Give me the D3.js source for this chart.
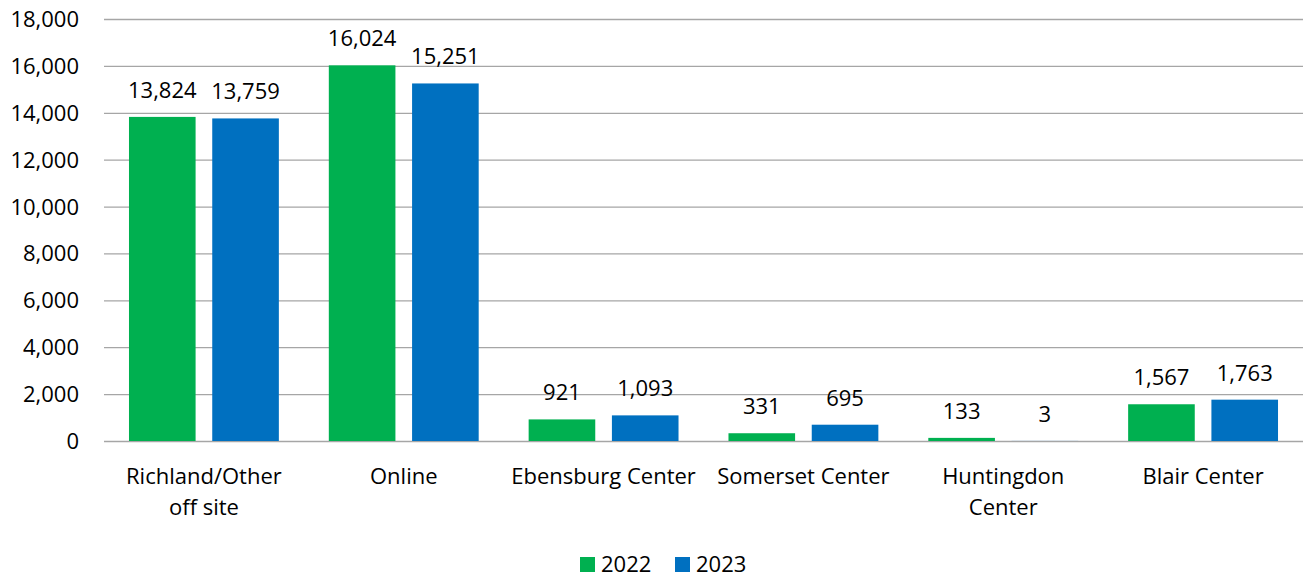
<!DOCTYPE html>
<html>
<head>
<meta charset="utf-8">
<script src="https://cdn.jsdelivr.net/npm/d3@7"></script>
<style>
  html, body { margin: 0; padding: 0; background: #fff; }
  svg { display: block; font-family: "Open Sans", "Noto Sans", sans-serif; }
</style>
</head>
<body>
<svg id="chart" width="1312" height="580"></svg>
<script>
// Enrollment by location, two years
const categories = ["Richland/Other off site", "Online", "Ebensburg Center", "Somerset Center", "Huntingdon Center", "Blair Center"];
const categoryLines = [["Richland/Other", "off site"], ["Online"], ["Ebensburg Center"], ["Somerset Center"], ["Huntingdon", "Center"], ["Blair Center"]];
const seriesNames = ["2022", "2023"];
const values2022 = [13824, 16024, 921, 331, 133, 1567];
const values2023 = [13759, 15251, 1093, 695, 3, 1763];
const yTicks = [0, 2000, 4000, 6000, 8000, 10000, 12000, 14000, 16000, 18000];
const colors = ["#00B050", "#0070C0"];

const seriesValues = [values2022, values2023];
const svg = d3.select("#chart");
const margin = { left: 104, right: 9, top: 19, bottom: 139 };
const W = 1312, H = 580;
const plotW = W - margin.left - margin.right;
const plotH = H - margin.top - margin.bottom;

const x = d3.scaleBand().domain(categories).range([0, plotW]).paddingInner(0).paddingOuter(0);
const x1 = d3.scaleBand().domain(seriesNames).range([0, x.bandwidth()]).paddingInner(0.2).paddingOuter(0.3);
const y = d3.scaleLinear().domain([0, 18000]).range([plotH, 0]);

const g = svg.append("g").attr("transform", `translate(${margin.left},${margin.top})`);

// Horizontal gridlines with tick labels
const yAxis = d3.axisLeft(y).tickValues(yTicks).tickSize(-plotW).tickPadding(25).tickFormat(d3.format(","));
const ya = g.append("g").call(yAxis);
ya.select(".domain").remove();
ya.selectAll(".tick line").attr("stroke", "#a6a6a6").attr("stroke-width", 1.3);
ya.selectAll(".tick text").attr("font-size", 22).attr("fill", "#000")
  .attr("font-family", "'Open Sans', sans-serif").attr("dy", "0.34em");

// Bars
const groups = g.selectAll(".cat").data(categories).join("g")
  .attr("transform", d => `translate(${x(d)},0)`);

seriesNames.forEach((s, si) => {
  groups.append("rect")
    .attr("x", x1(s))
    .attr("width", x1.bandwidth())
    .attr("y", (d, i) => y(seriesValues[si][i]))
    .attr("height", (d, i) => plotH - y(seriesValues[si][i]))
    .attr("fill", colors[si]);
  groups.append("text")
    .attr("x", x1(s) + x1.bandwidth() / 2)
    .attr("y", (d, i) => y(seriesValues[si][i]) - 19)
    .attr("text-anchor", "middle")
    .attr("font-size", 22)
    .attr("fill", "#000")
    .text((d, i) => d3.format(",")(seriesValues[si][i]));
});

// Category labels
const xa = g.append("g").attr("transform", `translate(0,${plotH})`);
categories.forEach((c, i) => {
  const t = xa.append("text")
    .attr("x", x(c) + x.bandwidth() / 2)
    .attr("y", 43)
    .attr("text-anchor", "middle")
    .attr("font-size", 22)
    .attr("fill", "#000");
  categoryLines[i].forEach((line, li) => {
    t.append("tspan").attr("x", x(c) + x.bandwidth() / 2).attr("dy", li === 0 ? 0 : 31).text(line);
  });
});

// Legend
const legend = svg.append("g").attr("transform", "translate(580,557)");
const legendX = [0, 95];
seriesNames.forEach((s, i) => {
  const lg = legend.append("g").attr("transform", `translate(${legendX[i]},0)`);
  lg.append("rect").attr("width", 15).attr("height", 15).attr("fill", colors[i]);
  lg.append("text").attr("x", 21).attr("y", 15).attr("font-size", 22).attr("fill", "#000").text(s);
});
</script>
</body>
</html>
